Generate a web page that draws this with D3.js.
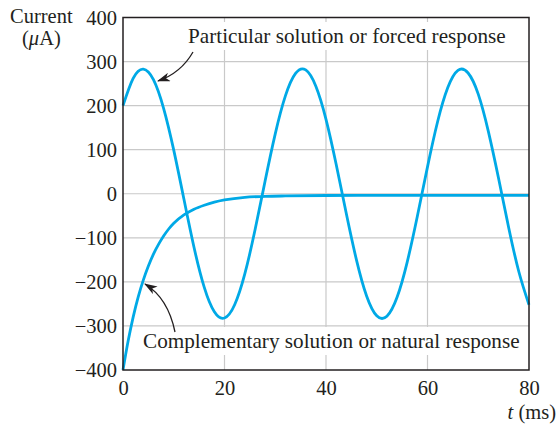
<!DOCTYPE html>
<html>
<head>
<meta charset="utf-8">
<script src="https://cdn.jsdelivr.net/npm/d3@7/dist/d3.min.js"></script>
<style>
  html, body { margin: 0; padding: 0; background: #fff; }
  svg { display: block; }
  text { font-family: "Liberation Serif", "Times New Roman", serif; fill: #231f20; }
</style>
</head>
<body>
<svg id="chart" width="557" height="425"></svg>
<script>
// ---- data ----
const forcedTime = [0,2,4,6,8,10,12,14,16,18,20,22,24,26,28,30,32,34,36,38,40,42,44,46,48,50,52,54,56,58,60,62,64,66,68,70,72,74,76,78,80];
const forcedValues = [200,262,283,259,194,99,-12,-122,-212,-268,-282,-252,-182,-83,29,136,222,273,281,244,169,67,-45,-150,-232,-277,-278,-235,-155,-51,61,164,241,280,274,226,141,35,-77,-177,-252];
const naturalTime = [0,1,2,3,4,5,6,7,8,9,10,12,14,16,18,20,24,28,32,40,50,60,70,80];
const naturalValues = [-400,-335,-280,-234,-196,-164,-137,-115,-96,-80,-67,-48,-35,-26,-19,-14,-8,-6,-5,-4,-3.5,-3.5,-3.5,-3.5];
const xTicks = [0,20,40,60,80];
const yTicks = [400,300,200,100,0,-100,-200,-300,-400];
const yTitle = ["Current", "(μA)"];
const xTitle = "t (ms)";
const forcedLabel = "Particular solution or forced response";
const naturalLabel = "Complementary solution or natural response";

// ---- layout ----
const svg = d3.select("#chart");
const x = d3.scaleLinear().domain([0, 80]).range([123, 529]);
const y = d3.scaleLinear().domain([-400, 400]).range([370, 17.5]);
const fs = 20.5;
const fsLabel = 21.2;
const blue = "#00a9e6";

// gridlines
const grid = svg.append("g").attr("stroke", "#c9c9c9").attr("stroke-width", 1.2);
grid.selectAll("line.v").data(xTicks.filter(d => d > 0 && d < 80)).enter().append("line")
  .attr("x1", d => x(d)).attr("x2", d => x(d)).attr("y1", y(400)).attr("y2", y(-400));
grid.selectAll("line.h").data(yTicks.filter(d => d > -400 && d < 400)).enter().append("line")
  .attr("y1", d => y(d)).attr("y2", d => y(d)).attr("x1", x(0)).attr("x2", x(80));

// axes (labels only, no tick marks)
const yAxis = d3.axisLeft(y).tickValues(yTicks).tickSize(0).tickPadding(6)
  .tickFormat(d => d < 0 ? "\u2212" + Math.abs(d) : String(d));
const ya = svg.append("g").attr("transform", `translate(${x(0)},0)`).call(yAxis);
ya.select(".domain").remove();
ya.selectAll("text").attr("font-size", fs).attr("font-family", "Liberation Serif").attr("fill", "#231f20").attr("dy", "0.33em");

const xAxis = d3.axisBottom(x).tickValues(xTicks).tickSize(0).tickPadding(10);
const xa = svg.append("g").attr("transform", `translate(0,${y(-400)})`).call(xAxis);
xa.select(".domain").remove();
xa.selectAll("text").attr("font-size", fs).attr("font-family", "Liberation Serif").attr("fill", "#231f20");

// annotation labels with white background
function boxedLabel(txt, tx, ty, pad) {
  const g = svg.append("g");
  const r = g.append("rect").attr("fill", "#fff");
  const t = g.append("text").attr("x", tx).attr("y", ty).attr("font-size", fsLabel).text(txt);
  const b = t.node().getBBox();
  r.attr("x", b.x - pad).attr("y", b.y - 2).attr("width", b.width + 2 * pad).attr("height", b.height + 4);
}
boxedLabel(forcedLabel, 188, 43, 3);
boxedLabel(naturalLabel, 143, 348, 3);

// curves
const fLine = d3.line().x(d => x(d[0])).y(d => y(d[1])).curve(d3.curveNatural);
const nLine = d3.line().x(d => x(d[0])).y(d => y(d[1])).curve(d3.curveMonotoneX);
svg.append("path").datum(forcedTime.map((t, i) => [t, forcedValues[i]]))
  .attr("d", fLine).attr("fill", "none").attr("stroke", blue).attr("stroke-width", 2.8);
svg.append("path").datum(naturalTime.map((t, i) => [t, naturalValues[i]]))
  .attr("d", nLine).attr("fill", "none").attr("stroke", blue).attr("stroke-width", 2.8);

// frame
svg.append("rect").attr("x", x(0)).attr("y", y(400)).attr("width", x(80) - x(0)).attr("height", y(-400) - y(400))
  .attr("fill", "none").attr("stroke", "#231f20").attr("stroke-width", 1.5);

// arrows
const defs = svg.append("defs");
defs.append("marker").attr("id", "ah").attr("viewBox", "0 0 13 9").attr("refX", 12).attr("refY", 4.5)
  .attr("markerWidth", 13).attr("markerHeight", 9).attr("markerUnits", "userSpaceOnUse").attr("orient", "auto")
  .append("path").attr("d", "M0,0 L13,4.5 L0,9 L3.5,4.5 Z").attr("fill", "#231f20");
svg.append("path").attr("d", "M193,52 Q181,73 158,81").attr("fill", "none").attr("stroke", "#231f20")
  .attr("stroke-width", 1.3).attr("marker-end", "url(#ah)");
svg.append("path").attr("d", "M175,332 Q168,298 145,284").attr("fill", "none").attr("stroke", "#231f20")
  .attr("stroke-width", 1.3).attr("marker-end", "url(#ah)");

// axis titles
svg.append("text").attr("x", 10).attr("y", 23).attr("font-size", fs).text(yTitle[0]);
const t2 = svg.append("text").attr("x", 22).attr("y", 45).attr("font-size", fs);
t2.append("tspan").text("(");
t2.append("tspan").attr("font-style", "italic").text(yTitle[1].slice(1, 2));
t2.append("tspan").text(yTitle[1].slice(2));
const xt = svg.append("text").attr("x", 556).attr("y", 419).attr("font-size", fs).attr("text-anchor", "end");
xt.append("tspan").attr("font-style", "italic").text(xTitle.slice(0, 1));
xt.append("tspan").text(xTitle.slice(1));
</script>
</body>
</html>
